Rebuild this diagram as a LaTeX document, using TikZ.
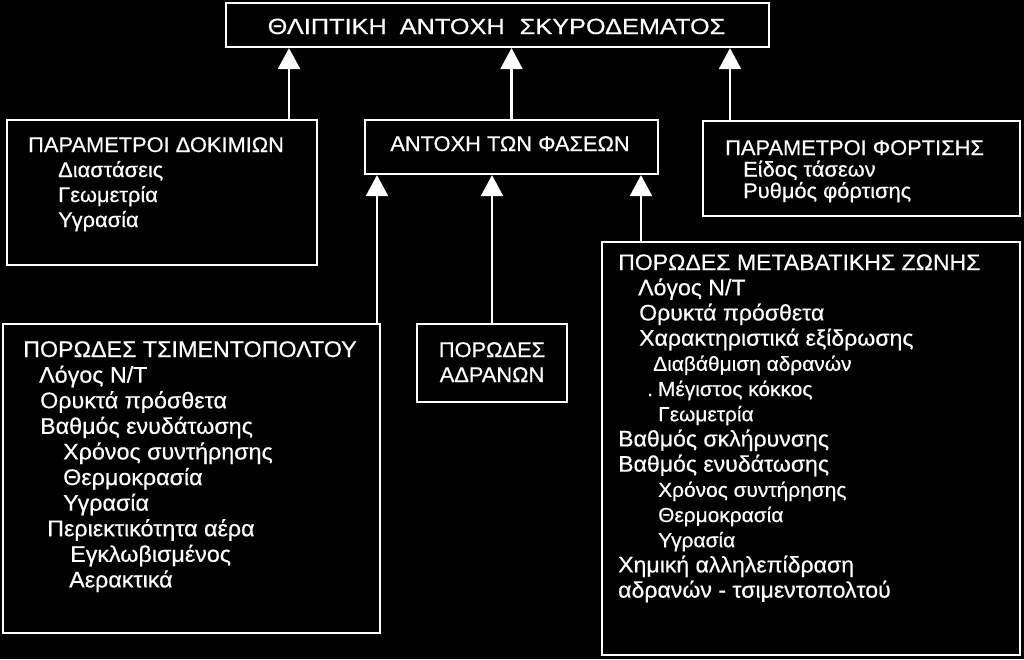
\documentclass[tikz,border=0pt]{standalone}
\usepackage{fontspec}
\setmainfont{Liberation Sans}[FakeStretch=1.03,FakeBold=0.5]
\newfontfamily\titlefont{Liberation Sans}[FakeStretch=1.15,FakeBold=0.5]
\usetikzlibrary{arrows.meta}
\newcommand\smtxt[1]{{\fontsize{20.3}{25.2}\selectfont #1}}
\begin{document}
\begin{tikzpicture}[x=1pt,y=-1pt,
  box/.style={draw=white,line width=2.2pt,rectangle,inner sep=0pt},
  arr/.style={draw=white,line width=2.2pt,-{Triangle[width=22pt,length=21pt]}},
  txt/.style={text=white,inner sep=0pt,align=left,anchor=base west},
  bigfont/.style={font=\fontsize{22.6}{25.6}\selectfont},
  midfont/.style={font=\fontsize{21.2}{25}\selectfont},
]
\fill[black] (0,0) rectangle (1024,659);
\useasboundingbox (0,0) rectangle (1024,659);

% boxes
\node[box,minimum width=543pt,minimum height=44pt] (top) at (497.5,25) {};
\node[box,minimum width=310pt,minimum height=145pt] (dok) at (162,192.5) {};
\node[box,minimum width=293pt,minimum height=54pt] (fas) at (511.5,147) {};
\node[box,minimum width=317pt,minimum height=95pt] (fort) at (861.5,168.5) {};
\node[box,minimum width=377pt,minimum height=309pt] (tsim) at (191.5,478.5) {};
\node[box,minimum width=150pt,minimum height=78pt] (adr) at (492,363) {};
\node[box,minimum width=418pt,minimum height=413pt] (meta) at (811,448.5) {};

% connectors
\coordinate (k1) at (289,0);
\coordinate (k3) at (730,0);
\coordinate (k4) at (377,0);
\coordinate (k6) at (641,0);
\draw[arr] (dok.north -| k1) -- (top.south -| k1);
\draw[arr] (fas.north) -- (top.south -| fas.north);
\draw[arr] (fort.north -| k3) -- (top.south -| k3);
\draw[arr] (tsim.north -| k4) -- (fas.south -| k4);
\draw[arr] (adr.north) -- (fas.south -| adr.north);
\draw[arr] (meta.north -| k6) -- (fas.south -| k6);

% texts (base anchor = baseline of the last line)
\node[txt,anchor=base,align=center,font=\titlefont\fontsize{22}{26}\selectfont] (ttop) at (496.5,34)
  {ΘΛΙΠΤΙΚΗ\hspace{13pt}ΑΝΤΟΧΗ\hspace{15pt}ΣΚΥΡΟΔΕΜΑΤΟΣ};

\node[txt,midfont] (tdok) at (28,227)
  {ΠΑΡΑΜΕΤΡΟΙ ΔΟΚΙΜΙΩΝ\\\hspace*{30pt}Διαστάσεις\\\hspace*{30pt}Γεωμετρία\\\hspace*{30pt}Υγρασία};

\node[txt,midfont,anchor=base,align=center] (tfas) at (510,151) {ΑΝΤΟΧΗ ΤΩΝ ΦΑΣΕΩΝ};

\node[txt,font=\fontsize{21.2}{21.5}\selectfont] (tfort) at (725,198)
  {ΠΑΡΑΜΕΤΡΟΙ ΦΟΡΤΙΣΗΣ\\\hspace*{18pt}Είδος τάσεων\\\hspace*{18pt}Ρυθμός φόρτισης};

\node[txt,midfont,anchor=base,align=center] (tadr) at (492,382) {ΠΟΡΩΔΕΣ\\ΑΔΡΑΝΩΝ};

\node[txt,bigfont] (ttsim) at (23,587.4)
  {ΠΟΡΩΔΕΣ ΤΣΙΜΕΝΤΟΠΟΛΤΟΥ\\
   \hspace*{16pt}Λόγος Ν/Τ\\
   \hspace*{17pt}Ορυκτά πρόσθετα\\
   \hspace*{17pt}Βαθμός ενυδάτωσης\\
   \hspace*{40pt}Χρόνος συντήρησης\\
   \hspace*{40pt}Θερμοκρασία\\
   \hspace*{40pt}Υγρασία\\
   \hspace*{24pt}Περιεκτικότητα αέρα\\
   \hspace*{47pt}Εγκλωβισμένος\\
   \hspace*{46pt}Αερακτικά};

\node[txt,font=\fontsize{22.4}{25.2}\selectfont] (tmeta) at (618,597.6)
  {ΠΟΡΩΔΕΣ ΜΕΤΑΒΑΤΙΚΗΣ ΖΩΝΗΣ\\
   \hspace*{20pt}Λόγος Ν/Τ\\
   \hspace*{21pt}Ορυκτά πρόσθετα\\
   \hspace*{21pt}Χαρακτηριστικά εξίδρωσης\\
   \hspace*{35pt}\smtxt{Διαβάθμιση αδρανών}\\
   \hspace*{29pt}\smtxt{.\hspace{5pt}Μέγιστος κόκκος}\\
   \hspace*{40pt}\smtxt{Γεωμετρία}\\
   Βαθμός σκλήρυνσης\\
   Βαθμός ενυδάτωσης\\
   \hspace*{40pt}\smtxt{Χρόνος συντήρησης}\\
   \hspace*{40pt}\smtxt{Θερμοκρασία}\\
   \hspace*{40pt}\smtxt{Υγρασία}\\
   Χημική αλληλεπίδραση\\
   αδρανών - τσιμεντοπολτού};
\end{tikzpicture}
\end{document}
